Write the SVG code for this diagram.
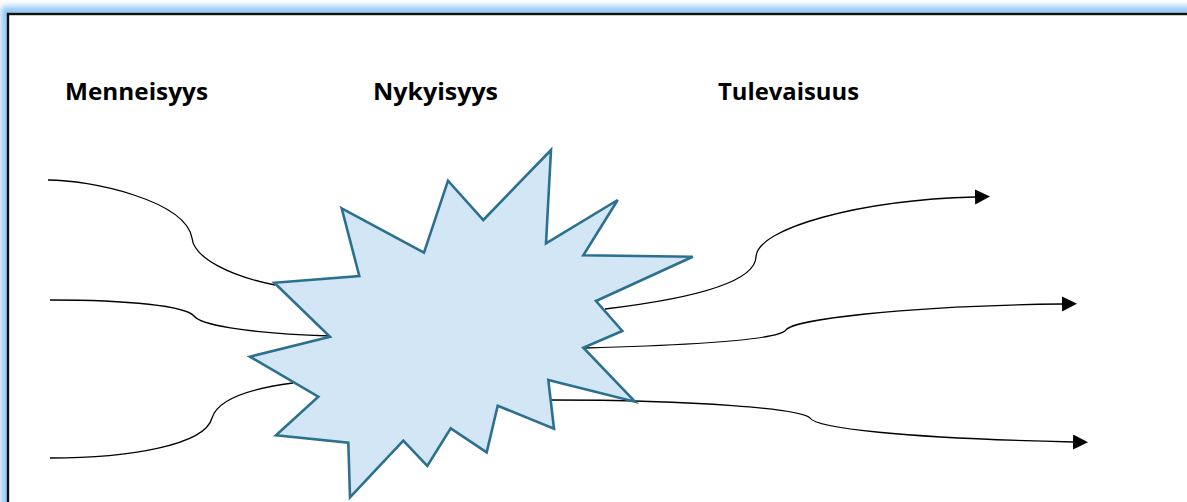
<svg xmlns="http://www.w3.org/2000/svg" width="1187" height="502" viewBox="0 0 1187 502">
  <defs>
    <style>
      .lbl { font-family: "Open Sans", "Liberation Sans", sans-serif; font-weight: 700; font-size: 23.5px; fill: #000; }
      .conn { fill: none; stroke: #000; stroke-width: 1.3; }
      .star { fill: #d2e6f5; stroke: #2c7090; stroke-width: 2.6; stroke-linejoin: miter; }
    </style>
    <marker id="arr" markerUnits="userSpaceOnUse" markerWidth="16" markerHeight="16" refX="0" refY="7.5" orient="auto" viewBox="0 0 16 16">
      <path d="M0,0 L15,7.5 L0,15 Z" fill="#000"/>
    </marker>
    <filter id="glow" x="-5%" y="-20%" width="110%" height="140%">
      <feGaussianBlur stdDeviation="3"/>
    </filter>
  </defs>

  <rect width="1187" height="502" fill="#fff"/>
  <g id="frame">
    <rect x="6" y="11" width="1200" height="510" fill="none" stroke="#8cc2f5" stroke-width="9" filter="url(#glow)"/>
    <rect x="8" y="14" width="1200" height="510" fill="#fff"/>
    <rect x="8" y="14" width="1200" height="510" fill="none" stroke="#111" stroke-width="2.4"/>
  </g>

  <g id="connectors">
    <path class="conn" d="M48,180 C90,180 185,200 192,238 C194,258 230,276 275,285"/>
    <path class="conn" d="M50,300 C130,300 185,306 194,316 C200,324 240,333 330,336"/>
    <path class="conn" d="M50,458 C130,458 205,445 212,418 C218,398 255,388 293,383"/>
    <path class="conn" d="M605,309 C680,300 755,285 756,257 C757,228 860,200 975,197" marker-end="url(#arr)"/>
    <path class="conn" d="M585,348 C700,345 778,340 786,330 C792,320 900,306 1062,304" marker-end="url(#arr)"/>
    <path class="conn" d="M550,400 C700,400 800,409 810,418 C816,428 900,438 1073,442" marker-end="url(#arr)"/>
  </g>

  <g id="nykyisyys-star">
    <polygon class="star" points="341.7,208.3 424,252.7 448,180.7 483.3,220 551,150 546,243.3 617.7,200 583.3,255.3 692.7,256.7 596,301 622.3,331 583.3,347.7 635,401.7 548.3,380 554,428.7 497.7,405.7 486.7,452.3 450.7,428.3 427.3,466 403.3,440.7 350,497.3 348.3,442.7 276,435.3 318.3,396.7 250,356.7 330,336.7 274.3,282.7 359.3,276"/>
  </g>

  <g id="label-menneisyys">
    <text class="lbl" x="65" y="99.5" textLength="143" lengthAdjust="spacingAndGlyphs">Menneisyys</text>
  </g>
  <g id="label-nykyisyys">
    <text class="lbl" x="373" y="99.5" textLength="125" lengthAdjust="spacingAndGlyphs">Nykyisyys</text>
  </g>
  <g id="label-tulevaisuus">
    <text class="lbl" x="718" y="99.5" textLength="141" lengthAdjust="spacingAndGlyphs">Tulevaisuus</text>
  </g>
</svg>
